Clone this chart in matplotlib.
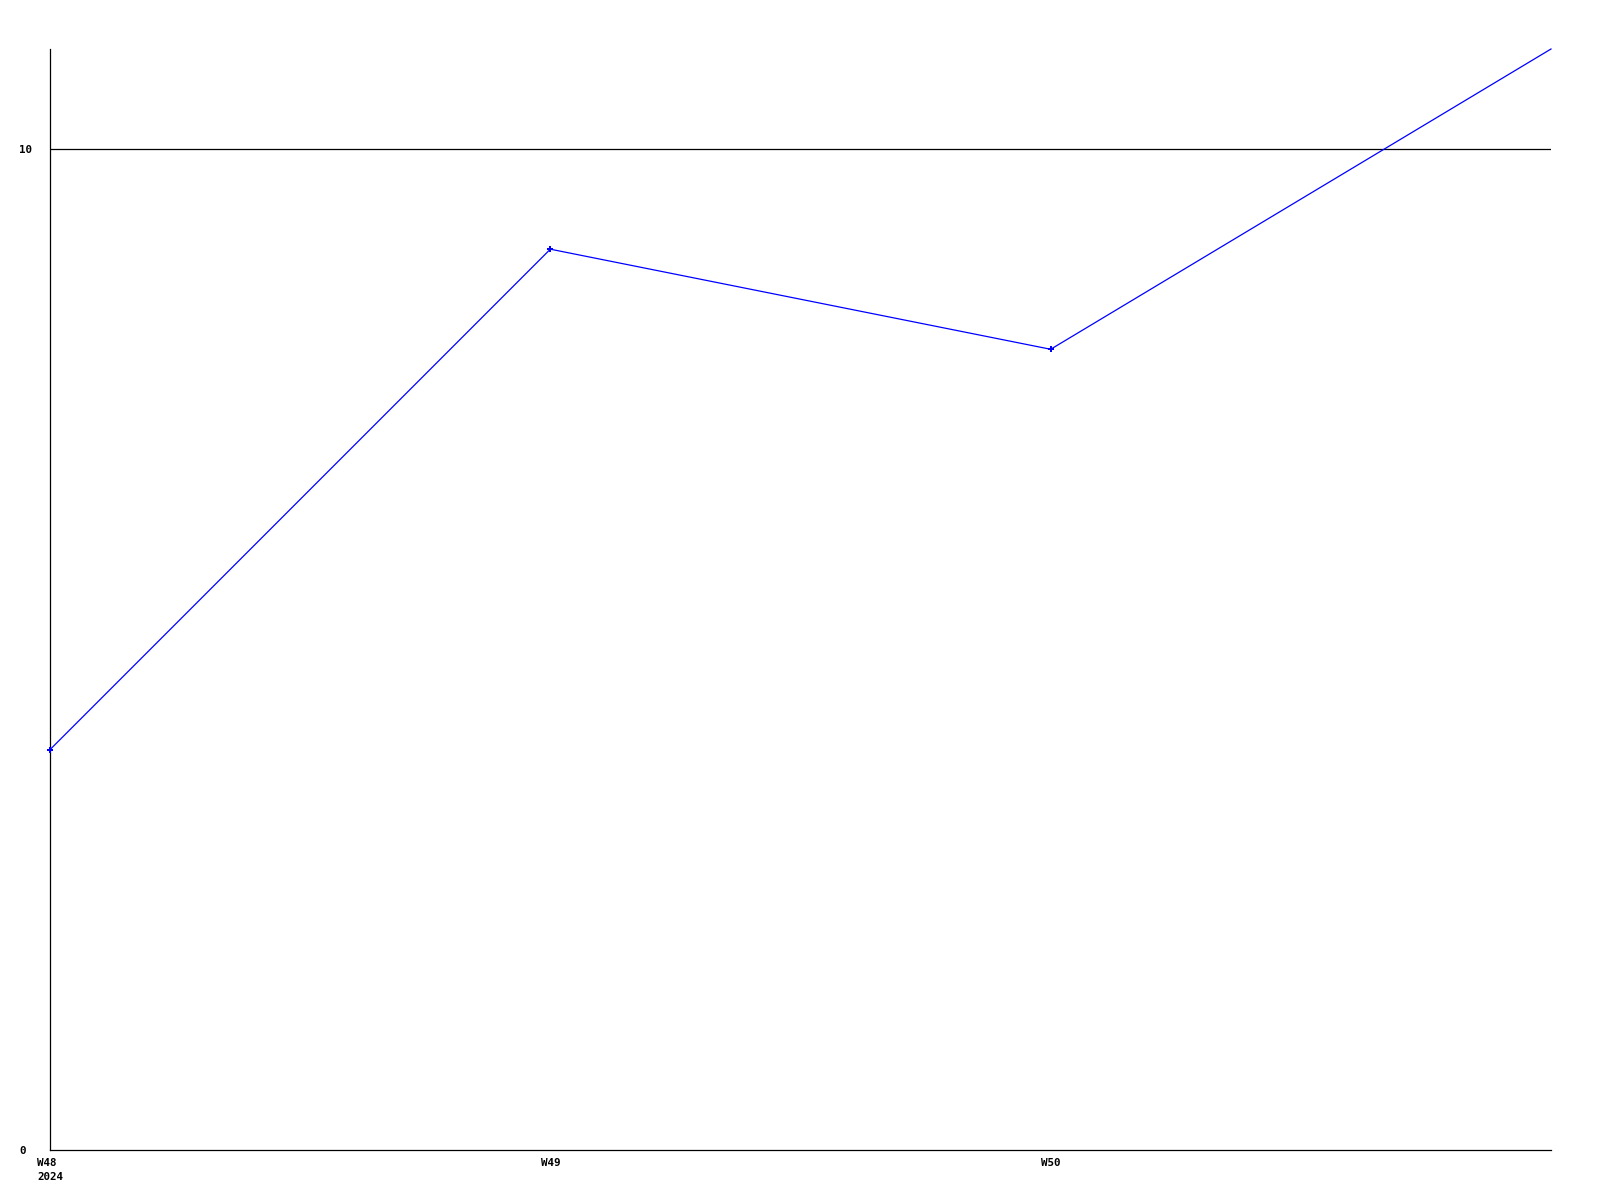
import matplotlib
matplotlib.use('Agg')
import matplotlib.pyplot as plt

weeks = ['W48\n2024', 'W49', 'W50', '']
values = [4, 9, 8, 11]
yticks = [0, 10]

FONT = dict(family='DejaVu Sans Mono', fontweight='bold', fontsize=7.8)

fig = plt.figure(figsize=(16, 12), dpi=100)
ax = fig.add_axes([50 / 1600, 50 / 1200, 1501 / 1600, 1101 / 1200])

x = list(range(len(values)))
# last point sits on the right edge and has no marker
ax.plot(x, values, color='#0000ff', linewidth=0.9, marker='P', markersize=4,
        markeredgewidth=0, markevery=list(range(len(values) - 1)),
        clip_on=False, zorder=3)

ax.set_xlim(0, len(values) - 1)
ax.set_ylim(0, 11)

# horizontal grid only at the labelled value
for v in yticks[1:]:
    ax.axhline(v, color='black', linewidth=0.9, zorder=1)

ax.set_yticks(yticks)
ax.set_yticklabels([str(v) for v in yticks], ha='left', **FONT)
ax.set_xticks(x[:-1])
ax.set_xticklabels(weeks[:-1], ha='center', multialignment='left', va='top',
                   linespacing=1.45, **FONT)
ax.tick_params(length=0, pad=6)
ax.tick_params(axis='y', pad=22)

for s in ['top', 'right']:
    ax.spines[s].set_visible(False)
for s in ['left', 'bottom']:
    ax.spines[s].set_linewidth(0.9)

fig.savefig('out.png', dpi=100)
